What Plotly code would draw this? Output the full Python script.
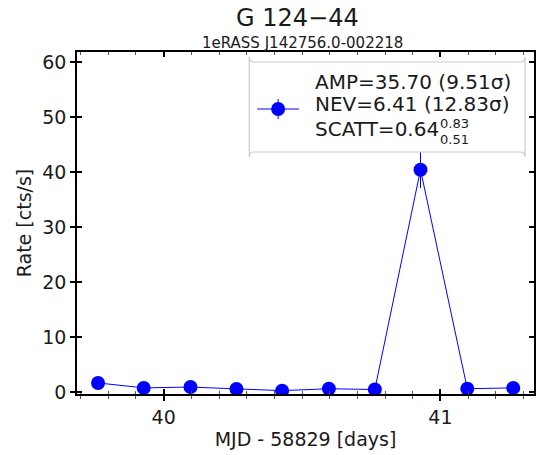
import plotly.graph_objects as go

# Data
mjd = [39.763, 39.928, 40.097, 40.263, 40.428, 40.597, 40.763, 40.928, 41.097, 41.263]
rate = [1.65, 0.75, 0.9, 0.55, 0.25, 0.6, 0.45, 40.4, 0.6, 0.75]
rate_err = [0.5, 0.4, 0.4, 0.35, 0.3, 0.35, 0.35, 3.3, 0.35, 0.4]

title = "G 124\u221244"
subtitle = "1eRASS J142756.0-002218"
legend_lines = ["AMP=35.70 (9.51\u03c3)", "NEV=6.41 (12.83\u03c3)"]
scatt_main, scatt_hi, scatt_lo = "SCATT=0.64", "0.83", "0.51"

W, H = 541, 455
L, R, T, B = 77, 536, 52, 394
XR = [39.687, 41.338]
YR = [-0.36, 61.8]
FONT = "DejaVu Sans"
BLUE = "#0000ff"
TXT = "#1a1a1a"

def px(x):
    return (x - L) / (R - L)

def py(y):
    return (B - y) / (B - T)

fig = go.Figure()
fig.add_trace(go.Scatter(
    x=mjd, y=rate, mode="lines+markers",
    line=dict(color=BLUE, width=1),
    marker=dict(color=BLUE, size=14),
    error_y=dict(type="data", array=rate_err, color=BLUE, thickness=1, width=0),
    showlegend=False,
))

axis_common = dict(showgrid=False, zeroline=False, showline=True, linecolor="black",
                   linewidth=1.5, tickcolor="black", tickfont=dict(family=FONT, size=19, color=TXT))

fig.update_layout(
    width=W, height=H,
    margin=dict(l=L, r=W - R, t=T, b=H - B),
    plot_bgcolor="white", paper_bgcolor="white",
    font=dict(family=FONT, color=TXT),
    xaxis=dict(range=XR, tickvals=[40, 41], ticktext=["40", "41"], ticks="outside", ticklen=5,
               tickwidth=1.5, mirror=True,
               minor=dict(dtick=0.1, tick0=40, ticks="outside", ticklen=3, tickcolor="#555", tickwidth=1),
               title=dict(text="MJD - 58829 [days]", font=dict(family=FONT, size=19, color=TXT), standoff=6),
               **axis_common),
    yaxis=dict(range=YR, tickvals=[0, 10, 20, 30, 40, 50, 60], ticks="outside", ticklen=5,
               tickwidth=1.5, mirror=True,
               title=dict(text="Rate [cts/s]", font=dict(family=FONT, size=19, color=TXT), standoff=6),
               **axis_common),
    xaxis2=dict(range=XR, overlaying="x", anchor="y", side="bottom", tickvals=[40, 41], showticklabels=False,
                ticks="inside", ticklen=5, tickwidth=1.5, tickcolor="black", showgrid=False, zeroline=False,
                mirror="allticks", showline=False,
                minor=dict(dtick=0.1, tick0=40, ticks="inside", ticklen=3, tickcolor="#555", tickwidth=1)),
    yaxis2=dict(range=YR, overlaying="y", anchor="x", side="left", tickvals=[0, 10, 20, 30, 40, 50, 60],
                showticklabels=False, ticks="inside", ticklen=5, tickwidth=1.5, tickcolor="black",
                showgrid=False, zeroline=False, mirror="allticks", showline=False),
)
# invisible helper trace so the overlay axes are drawn
fig.add_trace(go.Scatter(x=[XR[0]], y=[YR[0]], xaxis="x2", yaxis="y2", mode="markers",
                         marker=dict(opacity=0), showlegend=False, hoverinfo="skip"))

# Legend box (rounded rect)
x0, x1, y0, y1 = px(250), px(527), py(62), py(152)
r = 5
rx, ry = r / (R - L), r / (B - T)
path = (f"M {x0+rx},{y1} L {x1-rx},{y1} Q {x1},{y1} {x1},{y1-ry} L {x1},{y0+ry} Q {x1},{y0} {x1-rx},{y0} "
        f"L {x0+rx},{y0} Q {x0},{y0} {x0},{y0+ry} L {x0},{y1-ry} Q {x0},{y1} {x0+rx},{y1} Z")
fig.add_shape(type="path", path=path, xref="paper", yref="paper",
              line=dict(color="#cccccc", width=1.2), fillcolor="rgba(255,255,255,0.8)", layer="above")
# Legend symbol
fig.add_shape(type="line", xref="paper", yref="paper", x0=px(258), x1=px(300), y0=py(109), y1=py(109),
              line=dict(color=BLUE, width=1), layer="above")
fig.add_shape(type="line", xref="paper", yref="paper", x0=px(279), x1=px(279), y0=py(99), y1=py(119),
              line=dict(color=BLUE, width=1), layer="above")
fig.add_shape(type="circle", xref="paper", yref="paper", x0=px(272), x1=px(286), y0=py(102), y1=py(116),
              line=dict(color=BLUE, width=0), fillcolor=BLUE, layer="above")

ann = []
for txt, yc in zip(legend_lines, [82, 104]):
    ann.append(dict(text=txt, x=px(315), y=py(yc), xanchor="left", yanchor="middle"))
ann.append(dict(text=scatt_main, x=px(315), y=py(129), xanchor="left", yanchor="middle"))
ann.append(dict(text=scatt_hi, x=px(441), y=py(123), xanchor="left", yanchor="middle", size=13))
ann.append(dict(text=scatt_lo, x=px(441), y=py(139), xanchor="left", yanchor="middle", size=13))
for a in ann:
    size = a.pop("size", 20)
    fig.add_annotation(xref="paper", yref="paper", showarrow=False, borderpad=0,
                       font=dict(family=FONT, size=size, color=TXT), **a)

fig.add_annotation(text=title, xref="paper", yref="paper", x=px(298), y=py(18), showarrow=False,
                   xanchor="center", yanchor="middle", font=dict(family=FONT, size=24, color=TXT))
fig.add_annotation(text=subtitle, xref="paper", yref="paper", x=px(303), y=py(43), showarrow=False,
                   xanchor="center", yanchor="middle", font=dict(family=FONT, size=15, color=TXT))

fig.write_html("out.html")
